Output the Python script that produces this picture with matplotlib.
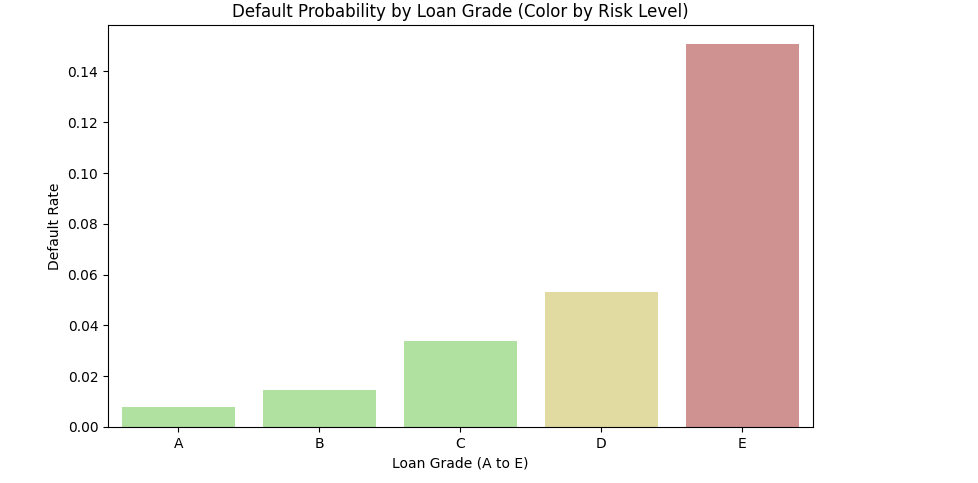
import matplotlib
matplotlib.use("Agg")
import matplotlib.pyplot as plt

grades = ["A", "B", "C", "D", "E"]
rates = [0.0079, 0.0146, 0.0339, 0.0532, 0.1508]
colors = ["#b0e1a1", "#b0e1a1", "#b0e1a1", "#e1dba1", "#d09191"]

fig = plt.figure(figsize=(9.79, 4.83), dpi=100)
ax = fig.add_axes([108/979, 1-427/483, (813-108)/979, (427-25)/483])
ax.bar(range(len(grades)), rates, width=0.8, color=colors)
ax.set_xticks(range(len(grades)))
ax.set_xticklabels(grades)
ax.set_xlim(-0.5, 4.5)
ax.set_ylim(0, 0.1583)
ax.set_xlabel("Loan Grade (A to E)")
ax.set_ylabel("Default Rate")
ax.set_title("Default Probability by Loan Grade (Color by Risk Level)")
fig.savefig("out.png", dpi=100)
